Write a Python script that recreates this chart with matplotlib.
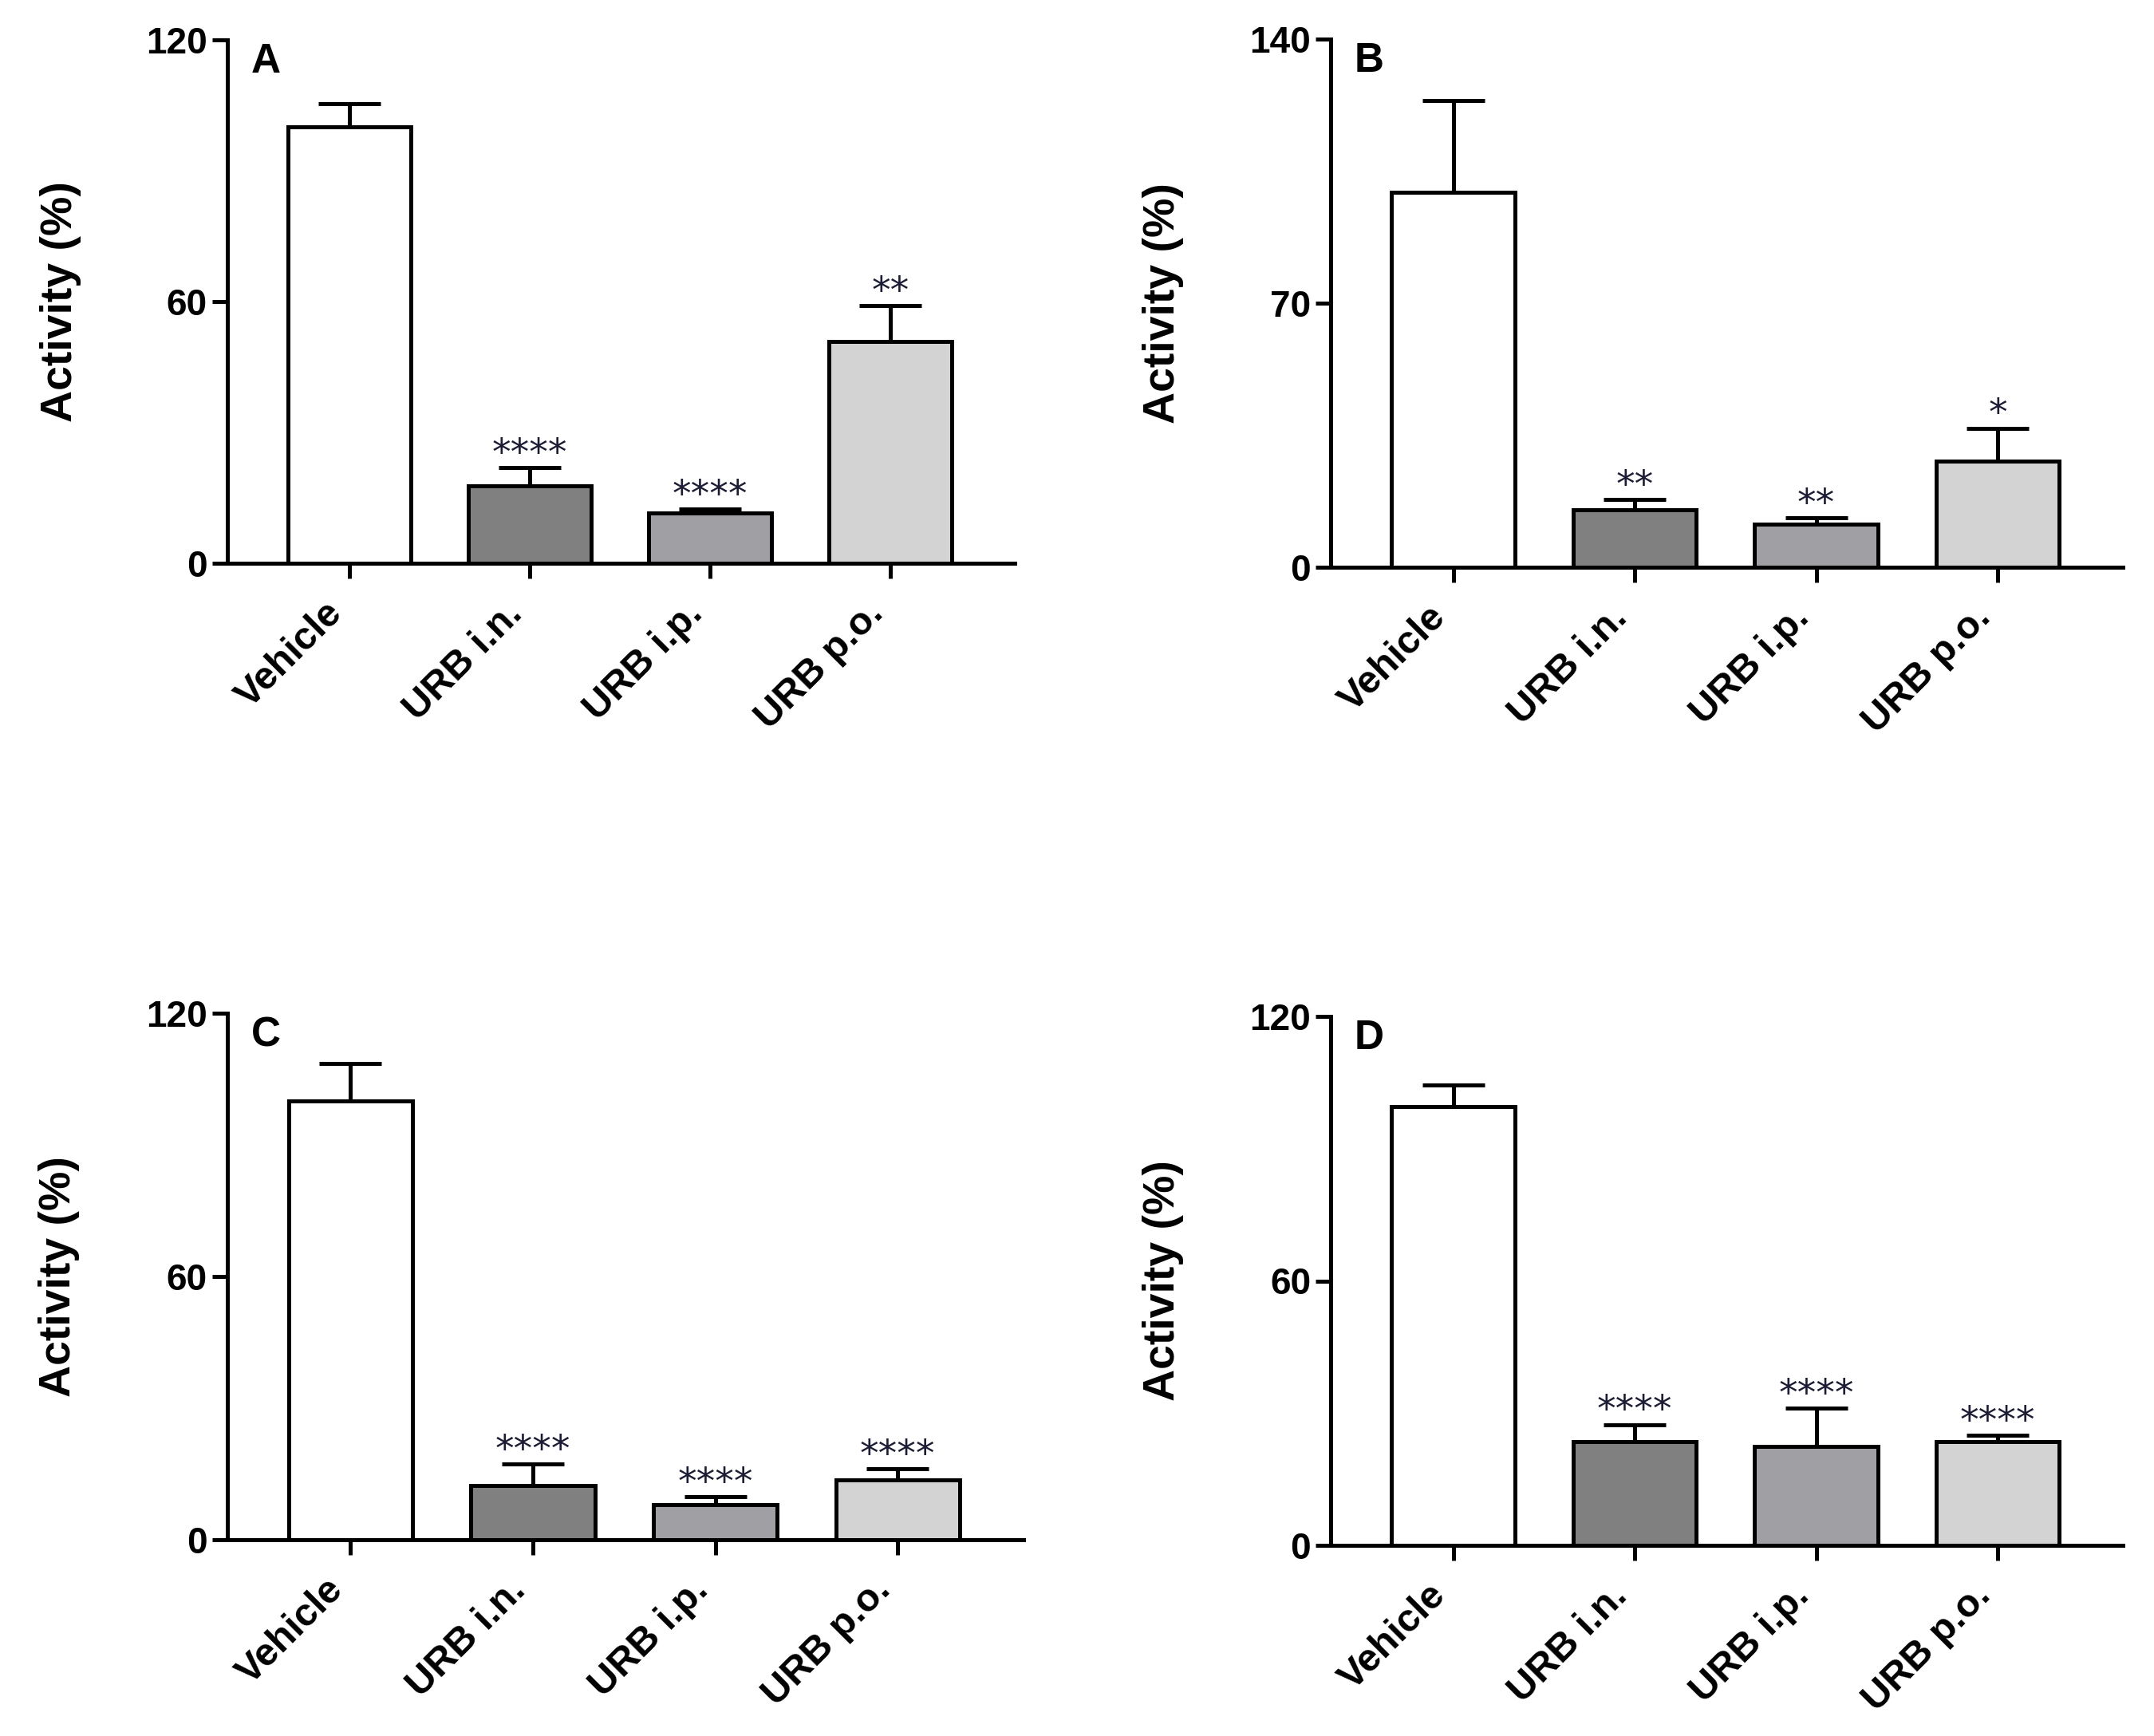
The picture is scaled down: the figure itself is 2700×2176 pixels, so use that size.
import matplotlib
matplotlib.use("Agg")
import matplotlib.pyplot as plt
import numpy as np

plt.rcParams['font.family'] = ['Liberation Sans', 'DejaVu Sans']

categories = ['Vehicle', 'URB i.n.', 'URB i.p.', 'URB p.o.']
bar_colors = ['#ffffff', '#808080', '#a0a0a4', '#d3d3d3']

A_mean = [100, 17.7, 11.5, 50.8]
A_err = [5.4, 4.3, 0.9, 8.2]
A_sig = ['', '****', '****', '**']

B_mean = [99.5, 15.2, 11.5, 28.2]
B_err = [24.2, 2.8, 1.6, 8.7]
B_sig = ['', '**', '**', '*']

C_mean = [100, 12.4, 8.0, 13.7]
C_err = [8.6, 4.9, 1.8, 2.4]
C_sig = ['', '****', '****', '****']

D_mean = [99.5, 23.6, 22.5, 23.6]
D_err = [4.9, 3.8, 8.6, 1.3]
D_sig = ['', '****', '****', '****']

panels = [
    ('A', A_mean, A_err, A_sig, [0, 60, 120]),
    ('B', B_mean, B_err, B_sig, [0, 70, 140]),
    ('C', C_mean, C_err, C_sig, [0, 60, 120]),
    ('D', D_mean, D_err, D_sig, [0, 60, 120]),
]

W, H = 2700, 2176
fig = plt.figure(figsize=(W / 100, H / 100), dpi=100)

# axes boxes in pixels: left, right, top, bottom (top-origin)
boxes = [
    (285, 1272, 50, 706),
    (1668, 2661, 49, 711),
    (285, 1283, 1270, 1930),
    (1668, 2661, 1274, 1937),
]

lw = 3.6
for (letter, mean, err, sig, yt), (l, r, t, b) in zip(panels, boxes):
    ax = fig.add_axes([l / W, 1 - b / H, (r - l) / W, (b - t) / H])
    x = np.arange(len(categories))
    ax.bar(x, mean, width=0.68, color=bar_colors, edgecolor='black',
           linewidth=lw, zorder=2)
    ax.errorbar(x, mean, yerr=[np.zeros(len(err)), err], fmt='none',
                ecolor='black', elinewidth=lw, capsize=28, capthick=lw,
                zorder=3)
    for xi, m, e, s in zip(x, mean, err, sig):
        if s:
            ax.annotate(s, (xi, m + e), xytext=(0, 3), textcoords='offset points',
                        ha='center', va='baseline', fontsize=34,
                        family='DejaVu Sans', color='#1c1c34')
    ax.set_xlim(-0.675, 3.69)
    ax.set_ylim(0, yt[-1])
    ax.set_yticks(yt)
    ax.set_yticklabels([str(v) for v in yt], fontsize=33, fontweight='bold')
    ax.set_xticks(x)
    ax.set_xticklabels(categories, rotation=45, ha='right', fontsize=35,
                       fontweight='bold')
    ax.tick_params(axis='both', direction='out', length=14, width=lw)
    ax.tick_params(axis='x', pad=15)
    ax.tick_params(axis='y', pad=4)
    for s in ['top', 'right']:
        ax.spines[s].set_visible(False)
    for s in ['left', 'bottom']:
        ax.spines[s].set_linewidth(lw)
    ax.set_ylabel('Activity (%)', fontsize=40, fontweight='bold')
    ax.yaxis.set_label_coords(-0.185, 0.5)
    ax.text(0.03, 0.995, letter, transform=ax.transAxes, ha='left', va='top',
            fontsize=37, fontweight='bold')

fig.savefig('out.png', dpi=100, facecolor='white')
